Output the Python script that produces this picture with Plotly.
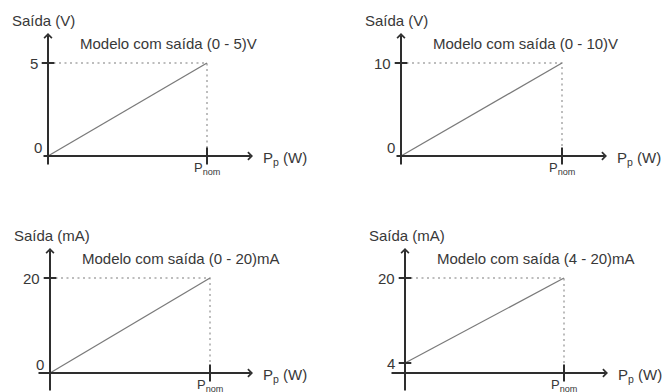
import plotly.graph_objects as go

W, H = 663, 392

# chart data (Pnom normalised to 1)
P_NOM = 1.0
titles = ["Modelo com saída (0 - 5)V", "Modelo com saída (0 - 10)V",
          "Modelo com saída (0 - 20)mA", "Modelo com saída (4 - 20)mA"]
y_labels = ["Saída (V)", "Saída (V)", "Saída (mA)", "Saída (mA)"]
y_min = [0, 0, 0, 4]
y_max = [5, 10, 20, 20]
x_label = "P<sub>p</sub> (W)"
x_tick_label = "P<sub>nom</sub>"

# pixel placement of each small diagram (layout only)
# ox/oy: axes crossing, pnom: x pixel of Pnom, ptop: pixel of y_max, pmin: pixel of y_min
# ytop/ybot: vertical axis extent, xl/xr: horizontal axis extent
PANELS = [
    dict(ox=48, oy=156, pnom=207, ptop=63, pmin=156, ytop=33, ybot=166, xl=42, xr=253),
    dict(ox=401, oy=156, pnom=562, ptop=63, pmin=156, ytop=33, ybot=166, xl=395, xr=607),
    dict(ox=50, oy=373, pnom=210, ptop=278, pmin=373, ytop=248, ybot=392, xl=37, xr=253),
    dict(ox=405, oy=373, pnom=564, ptop=278, pmin=363, ytop=248, ybot=392, xl=390, xr=608),
]

AXIS_COL = "#2e2e2e"
TEXT_COL = "#383838"
FONT = "Liberation Sans, Arial, sans-serif"

fig = go.Figure()
layout_axes = {}

for i, p in enumerate(PANELS):
    n = "" if i == 0 else str(i + 1)
    xa, ya = "x" + n, "y" + n
    lo, hi = y_min[i], y_max[i]

    sx = (p["pnom"] - p["ox"]) / P_NOM
    sy = (p["pmin"] - p["ptop"]) / (hi - lo)
    xv = lambda px: (px - p["ox"]) / sx
    yv = lambda py: lo + (p["pmin"] - py) / sy
    base = yv(p["oy"])

    layout_axes["xaxis" + n] = dict(domain=[0, 1], range=[xv(0), xv(W)], visible=False,
                                    fixedrange=True, anchor=ya)
    layout_axes["yaxis" + n] = dict(domain=[0, 1], range=[yv(H), yv(0)], visible=False,
                                    fixedrange=True, anchor=xa)

    # dotted guides
    fig.add_trace(go.Scatter(x=[0, P_NOM, P_NOM], y=[hi, hi, base], mode="lines",
                             line=dict(color="#a8a8a8", width=1.5, dash="2px,3.5px"),
                             xaxis=xa, yaxis=ya, hoverinfo="skip"))
    # output line
    fig.add_trace(go.Scatter(x=[0, P_NOM], y=[lo, hi], mode="lines",
                             line=dict(color="#7a7a7a", width=1.3),
                             xaxis=xa, yaxis=ya, hoverinfo="skip"))

    # axes with arrows
    fig.add_annotation(x=0, y=yv(p["ytop"]), ax=0, ay=yv(p["ybot"]), xref=xa, yref=ya,
                       axref=xa, ayref=ya, text="", showarrow=True, arrowhead=4,
                       arrowsize=0.75, arrowwidth=2, arrowcolor=AXIS_COL, standoff=0)
    fig.add_annotation(x=xv(p["xr"]), y=base, ax=xv(p["xl"]), ay=base, xref=xa, yref=ya,
                       axref=xa, ayref=ya, text="", showarrow=True, arrowhead=4,
                       arrowsize=0.75, arrowwidth=2, arrowcolor=AXIS_COL, standoff=0)

    # tick marks
    yt = [hi] + ([lo] if lo != 0 else [])
    fig.add_trace(go.Scatter(x=[0] * len(yt), y=yt, mode="markers",
                             marker=dict(symbol="line-ew", size=9,
                                         line=dict(color=AXIS_COL, width=2)),
                             xaxis=xa, yaxis=ya, hoverinfo="skip"))
    fig.add_trace(go.Scatter(x=[P_NOM], y=[base], mode="markers",
                             marker=dict(symbol="line-ns", size=12,
                                         line=dict(color=AXIS_COL, width=2)),
                             xaxis=xa, yaxis=ya, hoverinfo="skip"))

    f = dict(family=FONT, size=15, color=TEXT_COL)
    # tick labels
    for v in (lo, hi):
        if v == 0:
            fig.add_annotation(x=0, y=v, xref=xa, yref=ya, text=str(v), showarrow=False,
                               xanchor="right", yanchor="middle", xshift=-4, yshift=9, font=f)
        else:
            fig.add_annotation(x=0, y=v, xref=xa, yref=ya, text=str(v), showarrow=False,
                               xanchor="right", yanchor="middle", xshift=-8, font=f)
    fig.add_annotation(x=P_NOM, y=base, xref=xa, yref=ya, text=x_tick_label, showarrow=False,
                       xanchor="center", yanchor="middle", yshift=-12,
                       font=dict(family=FONT, size=13, color=TEXT_COL))
    fig.add_annotation(x=xv(p["xr"]), y=base, xref=xa, yref=ya, text=x_label, showarrow=False,
                       xanchor="left", yanchor="middle", xshift=8, yshift=-2, font=f)
    # titles
    fig.add_annotation(x=0, y=hi, xref=xa, yref=ya, text=titles[i], showarrow=False,
                       xanchor="left", yanchor="middle", xshift=30, yshift=20, font=f)
    fig.add_annotation(x=0, y=hi, xref=xa, yref=ya, text=y_labels[i], showarrow=False,
                       xanchor="left", yanchor="middle", xshift=-38, yshift=43, font=f)

fig.update_layout(width=W, height=H, margin=dict(l=0, r=0, t=0, b=0),
                  paper_bgcolor="white", plot_bgcolor="rgba(0,0,0,0)", showlegend=False,
                  **layout_axes)

fig.write_html("out.html", config={"displayModeBar": False},
               post_script="document.body.style.margin='0';")
